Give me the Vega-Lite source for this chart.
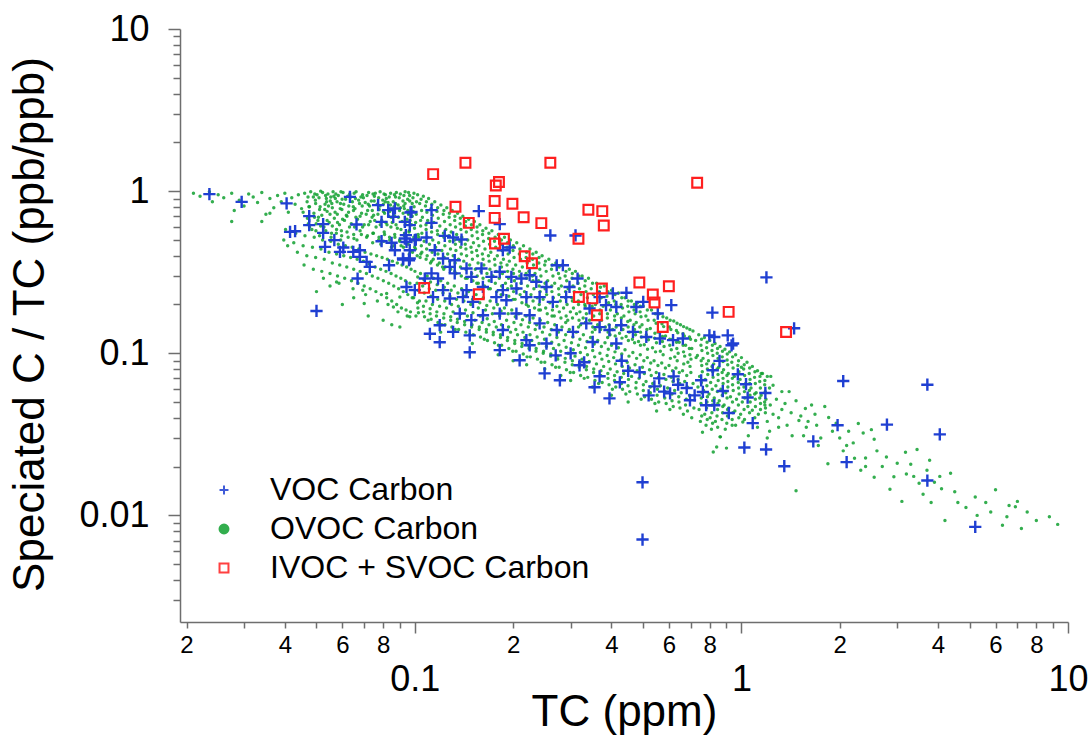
{
"$schema":"https://vega.github.io/schema/vega-lite/v6.json",
"width":888,"height":593,
"autosize":{"type":"none"},
"padding":{"left":180,"top":29,"right":24,"bottom":116},
"background":"white",
"config":{"view":{"stroke":null},"font":"Liberation Sans",
 "legend":{"title":null,"orient":"none","legendX":28,"legendY":445,"padding":0,"labelFontSize":32,"labelFont":"Liberation Sans","labelColor":"black","labelOffset":30,"labelLimit":0,"symbolSize":80,"symbolStrokeWidth":2,"rowPadding":7}},
"datasets":{
"ovoc":[
{"x":0.021,"y":0.97},{"x":0.022,"y":0.93},{"x":0.0235,"y":0.99},{"x":0.025,"y":0.95},{"x":0.026,"y":0.91},{"x":0.0275,"y":0.97},{"x":0.029,"y":0.88},{"x":0.031,"y":0.96},{"x":0.032,"y":0.92},{"x":0.033,"y":0.85},{"x":0.034,"y":0.98},{"x":0.036,"y":0.9},{"x":0.037,"y":0.79},{"x":0.038,"y":0.94},{"x":0.039,"y":0.86},{"x":0.04,"y":0.97},{"x":0.041,"y":0.74},{"x":0.042,"y":0.91},{"x":0.043,"y":0.83},{"x":0.044,"y":0.95},{"x":0.035,"y":0.72},{"x":0.03,"y":0.81},{"x":0.045,"y":0.78},{"x":0.0275,"y":0.65},{"x":0.034,"y":0.65},{"x":0.036,"y":0.73},{"x":0.024,"y":0.86},{"x":0.028,"y":0.76},
{"x":0.046,"y":0.97},{"x":0.0468,"y":0.86},{"x":0.0455,"y":0.74},{"x":0.0472,"y":0.63},
{"x":0.048,"y":0.99},{"x":0.0489,"y":0.92},{"x":0.0476,"y":0.8},{"x":0.0493,"y":0.69},{"x":0.0484,"y":0.58},
{"x":0.0502,"y":0.95},{"x":0.0496,"y":0.88},{"x":0.0511,"y":0.77},{"x":0.0505,"y":0.66},{"x":0.0498,"y":0.57},{"x":0.0515,"y":1.0},
{"x":0.0522,"y":0.98},{"x":0.0531,"y":0.83},{"x":0.0519,"y":0.71},{"x":0.0527,"y":0.6},{"x":0.0536,"y":0.9},
{"x":0.0542,"y":0.96},{"x":0.0551,"y":0.87},{"x":0.0539,"y":0.75},{"x":0.0547,"y":0.64},{"x":0.0556,"y":0.55},{"x":0.0544,"y":0.81},
{"x":0.0562,"y":0.99},{"x":0.0571,"y":0.9},{"x":0.0559,"y":0.79},{"x":0.0567,"y":0.68},{"x":0.0576,"y":0.58},{"x":0.0565,"y":0.93},
{"x":0.0583,"y":0.94},{"x":0.0592,"y":0.84},{"x":0.0579,"y":0.72},{"x":0.0588,"y":0.62},{"x":0.0597,"y":0.53},
{"x":0.0603,"y":0.98},{"x":0.0614,"y":0.89},{"x":0.0598,"y":0.77},{"x":0.0609,"y":0.66},{"x":0.062,"y":0.56},{"x":0.0606,"y":0.83},{"x":0.0617,"y":0.71},
{"x":0.0632,"y":0.96},{"x":0.0644,"y":0.86},{"x":0.0627,"y":0.74},{"x":0.0639,"y":0.63},{"x":0.065,"y":0.54},{"x":0.0636,"y":0.92},{"x":0.0648,"y":0.8},
{"x":0.0661,"y":0.99},{"x":0.0673,"y":0.88},{"x":0.0656,"y":0.78},{"x":0.0668,"y":0.67},{"x":0.068,"y":0.57},{"x":0.0665,"y":0.5},{"x":0.0677,"y":0.84},
{"x":0.0692,"y":0.95},{"x":0.0705,"y":0.85},{"x":0.0687,"y":0.73},{"x":0.07,"y":0.62},{"x":0.0712,"y":0.52},{"x":0.0696,"y":0.91},
{"x":0.0722,"y":0.98},{"x":0.0736,"y":0.87},{"x":0.0717,"y":0.76},{"x":0.073,"y":0.65},{"x":0.0744,"y":0.55},{"x":0.0727,"y":0.81},{"x":0.074,"y":0.69},
{"x":0.0752,"y":0.93},{"x":0.0767,"y":0.83},{"x":0.0748,"y":0.71},{"x":0.0761,"y":0.6},{"x":0.0775,"y":0.5},{"x":0.0757,"y":0.97},
{"x":0.0783,"y":0.99},{"x":0.0798,"y":0.88},{"x":0.0778,"y":0.77},{"x":0.0792,"y":0.66},{"x":0.0806,"y":0.56},{"x":0.0787,"y":0.47},{"x":0.0801,"y":0.83},
{"x":0.0813,"y":0.95},{"x":0.0828,"y":0.85},{"x":0.0808,"y":0.73},{"x":0.0822,"y":0.62},{"x":0.0837,"y":0.52},{"x":0.0818,"y":0.9},
{"x":0.0843,"y":0.97},{"x":0.0859,"y":0.86},{"x":0.0838,"y":0.75},{"x":0.0853,"y":0.64},{"x":0.0868,"y":0.54},{"x":0.0848,"y":0.45},{"x":0.0864,"y":0.8},{"x":0.0846,"y":0.69},
{"x":0.0873,"y":0.92},{"x":0.0889,"y":0.82},{"x":0.0868,"y":0.7},{"x":0.0884,"y":0.59},{"x":0.0899,"y":0.49},{"x":0.0878,"y":0.98},
{"x":0.0903,"y":0.96},{"x":0.092,"y":0.87},{"x":0.0898,"y":0.76},{"x":0.0914,"y":0.65},{"x":0.093,"y":0.55},{"x":0.0908,"y":0.46},{"x":0.0925,"y":0.81},
{"x":0.0934,"y":0.99},{"x":0.0951,"y":0.89},{"x":0.0929,"y":0.78},{"x":0.0946,"y":0.67},{"x":0.0962,"y":0.57},{"x":0.0939,"y":0.48},{"x":0.0956,"y":0.72},
{"x":0.0964,"y":0.94},{"x":0.0982,"y":0.84},{"x":0.0959,"y":0.73},{"x":0.0977,"y":0.62},{"x":0.0993,"y":0.52},{"x":0.0969,"y":0.43},
{"x":0.0994,"y":0.97},{"x":0.1012,"y":0.86},{"x":0.0988,"y":0.75},{"x":0.1006,"y":0.64},{"x":0.1024,"y":0.54},{"x":0.0999,"y":0.45},{"x":0.1017,"y":0.4},
{"x":0.0471,"y":0.92},{"x":0.0474,"y":0.8},{"x":0.0469,"y":0.68},{"x":0.0476,"y":0.6},
{"x":0.0494,"y":0.96},{"x":0.0497,"y":0.84},{"x":0.0491,"y":0.73},{"x":0.0499,"y":0.63},
{"x":0.0509,"y":0.91},{"x":0.0513,"y":0.8},{"x":0.0507,"y":0.69},{"x":0.0515,"y":0.61},{"x":0.0511,"y":0.53},
{"x":0.0533,"y":0.94},{"x":0.0537,"y":0.86},{"x":0.053,"y":0.77},{"x":0.0539,"y":0.66},{"x":0.0534,"y":0.57},
{"x":0.0553,"y":0.92},{"x":0.0557,"y":0.84},{"x":0.055,"y":0.72},{"x":0.0559,"y":0.61},{"x":0.0554,"y":0.52},
{"x":0.0573,"y":0.96},{"x":0.0578,"y":0.86},{"x":0.057,"y":0.74},{"x":0.058,"y":0.64},{"x":0.0575,"y":0.55},
{"x":0.0594,"y":0.99},{"x":0.0599,"y":0.89},{"x":0.0591,"y":0.78},{"x":0.0601,"y":0.67},{"x":0.0596,"y":0.57},{"x":0.0593,"y":0.5},
{"x":0.0623,"y":0.93},{"x":0.0628,"y":0.81},{"x":0.062,"y":0.7},{"x":0.0631,"y":0.6},{"x":0.0625,"y":0.52},
{"x":0.0652,"y":0.97},{"x":0.0658,"y":0.9},{"x":0.0649,"y":0.76},{"x":0.066,"y":0.69},{"x":0.0654,"y":0.6},{"x":0.0651,"y":0.51},
{"x":0.0684,"y":0.92},{"x":0.069,"y":0.81},{"x":0.068,"y":0.7},{"x":0.0692,"y":0.6},{"x":0.0686,"y":0.54},
{"x":0.0714,"y":0.94},{"x":0.072,"y":0.83},{"x":0.071,"y":0.72},{"x":0.0722,"y":0.62},{"x":0.0716,"y":0.53},
{"x":0.0745,"y":0.96},{"x":0.0751,"y":0.87},{"x":0.0741,"y":0.76},{"x":0.0754,"y":0.66},{"x":0.0747,"y":0.55},{"x":0.0743,"y":0.48},
{"x":0.0775,"y":0.91},{"x":0.0782,"y":0.81},{"x":0.0771,"y":0.72},{"x":0.0784,"y":0.62},{"x":0.0777,"y":0.52},
{"x":0.0805,"y":0.96},{"x":0.0812,"y":0.86},{"x":0.0801,"y":0.75},{"x":0.0815,"y":0.64},{"x":0.0808,"y":0.54},{"x":0.0803,"y":0.49},
{"x":0.0835,"y":0.92},{"x":0.0842,"y":0.82},{"x":0.0831,"y":0.7},{"x":0.0845,"y":0.6},{"x":0.0838,"y":0.5},
{"x":0.0866,"y":0.95},{"x":0.0873,"y":0.84},{"x":0.0861,"y":0.73},{"x":0.0876,"y":0.62},{"x":0.0869,"y":0.52},{"x":0.0863,"y":0.46},
{"x":0.0896,"y":0.91},{"x":0.0904,"y":0.79},{"x":0.0891,"y":0.69},{"x":0.0907,"y":0.58},{"x":0.0899,"y":0.5},
{"x":0.0926,"y":0.94},{"x":0.0934,"y":0.84},{"x":0.0921,"y":0.73},{"x":0.0937,"y":0.62},{"x":0.0929,"y":0.53},{"x":0.0923,"y":0.45},
{"x":0.0957,"y":0.98},{"x":0.0965,"y":0.87},{"x":0.0952,"y":0.76},{"x":0.0968,"y":0.66},{"x":0.096,"y":0.56},{"x":0.0954,"y":0.47},{"x":0.0962,"y":0.41},
{"x":0.0987,"y":0.91},{"x":0.0995,"y":0.8},{"x":0.0982,"y":0.7},{"x":0.0998,"y":0.59},{"x":0.099,"y":0.5},{"x":0.0984,"y":0.42},
{"x":0.0402,"y":0.58},{"x":0.0397,"y":0.5},{"x":0.0408,"y":0.46},
{"x":0.0432,"y":0.55},{"x":0.0426,"y":0.48},{"x":0.0437,"y":0.42},
{"x":0.0461,"y":0.53},{"x":0.0455,"y":0.46},{"x":0.0467,"y":0.4},{"x":0.0458,"y":0.35},
{"x":0.0492,"y":0.52},{"x":0.0486,"y":0.45},{"x":0.0497,"y":0.39},{"x":0.0489,"y":0.33},
{"x":0.0522,"y":0.5},{"x":0.0516,"y":0.44},{"x":0.0528,"y":0.38},{"x":0.0519,"y":0.32},{"x":0.0525,"y":0.29},
{"x":0.0553,"y":0.49},{"x":0.0546,"y":0.42},{"x":0.0559,"y":0.36},{"x":0.055,"y":0.31},
{"x":0.0583,"y":0.47},{"x":0.0576,"y":0.41},{"x":0.0589,"y":0.35},{"x":0.058,"y":0.3},{"x":0.0586,"y":0.27},
{"x":0.0613,"y":0.46},{"x":0.0606,"y":0.4},{"x":0.0619,"y":0.34},{"x":0.061,"y":0.29},
{"x":0.0643,"y":0.45},{"x":0.0636,"y":0.39},{"x":0.065,"y":0.33},{"x":0.064,"y":0.28},{"x":0.0647,"y":0.25},
{"x":0.0674,"y":0.44},{"x":0.0666,"y":0.38},{"x":0.068,"y":0.32},{"x":0.067,"y":0.27},
{"x":0.0704,"y":0.42},{"x":0.0696,"y":0.37},{"x":0.0711,"y":0.31},{"x":0.07,"y":0.26},{"x":0.0707,"y":0.23},
{"x":0.0734,"y":0.41},{"x":0.0726,"y":0.355},{"x":0.0741,"y":0.3},{"x":0.073,"y":0.25},
{"x":0.0764,"y":0.4},{"x":0.0756,"y":0.34},{"x":0.0771,"y":0.29},{"x":0.076,"y":0.24},{"x":0.0768,"y":0.21},
{"x":0.0794,"y":0.39},{"x":0.0786,"y":0.33},{"x":0.0801,"y":0.28},{"x":0.079,"y":0.23},
{"x":0.0824,"y":0.38},{"x":0.0816,"y":0.32},{"x":0.0832,"y":0.27},{"x":0.082,"y":0.22},{"x":0.0828,"y":0.2},
{"x":0.0854,"y":0.37},{"x":0.0846,"y":0.31},{"x":0.0862,"y":0.26},{"x":0.085,"y":0.21},
{"x":0.0884,"y":0.36},{"x":0.0876,"y":0.3},{"x":0.0892,"y":0.25},{"x":0.088,"y":0.2},{"x":0.0888,"y":0.18},
{"x":0.0914,"y":0.35},{"x":0.0906,"y":0.29},{"x":0.0922,"y":0.24},{"x":0.091,"y":0.19},
{"x":0.0944,"y":0.34},{"x":0.0936,"y":0.28},{"x":0.0952,"y":0.23},{"x":0.094,"y":0.185},{"x":0.0948,"y":0.17},
{"x":0.0974,"y":0.33},{"x":0.0966,"y":0.27},{"x":0.0982,"y":0.22},{"x":0.097,"y":0.18},
{"x":0.0576,"y":0.275},{"x":0.0693,"y":0.245},{"x":0.082,"y":0.234},{"x":0.09,"y":0.222},{"x":0.07,"y":0.203},{"x":0.086,"y":0.193},{"x":0.0965,"y":0.168},{"x":0.05,"y":0.24},{"x":0.06,"y":0.2},{"x":0.072,"y":0.17},{"x":0.08,"y":0.16},{"x":0.09,"y":0.145},{"x":0.065,"y":0.22},{"x":0.055,"y":0.26},{"x":0.085,"y":0.15},
{"x":0.102,"y":0.95},{"x":0.1035,"y":0.84},{"x":0.101,"y":0.72},{"x":0.1042,"y":0.61},{"x":0.1027,"y":0.52},{"x":0.1005,"y":0.44},{"x":0.1038,"y":0.39},
{"x":0.1062,"y":0.93},{"x":0.1078,"y":0.81},{"x":0.1055,"y":0.69},{"x":0.1083,"y":0.58},{"x":0.1068,"y":0.49},{"x":0.1051,"y":0.42},
{"x":0.1102,"y":0.9},{"x":0.1121,"y":0.78},{"x":0.1095,"y":0.66},{"x":0.1126,"y":0.56},{"x":0.1109,"y":0.47},{"x":0.1091,"y":0.4},{"x":0.1117,"y":0.36},
{"x":0.1151,"y":0.86},{"x":0.1169,"y":0.75},{"x":0.1143,"y":0.64},{"x":0.1175,"y":0.54},{"x":0.1158,"y":0.45},{"x":0.1139,"y":0.38},
{"x":0.1202,"y":0.82},{"x":0.1222,"y":0.72},{"x":0.1193,"y":0.61},{"x":0.1228,"y":0.52},{"x":0.121,"y":0.43},{"x":0.1189,"y":0.36},{"x":0.1216,"y":0.34},
{"x":0.1253,"y":0.79},{"x":0.1274,"y":0.69},{"x":0.1244,"y":0.58},{"x":0.128,"y":0.49},{"x":0.1261,"y":0.41},{"x":0.1239,"y":0.34},
{"x":0.1302,"y":0.76},{"x":0.1325,"y":0.66},{"x":0.1293,"y":0.56},{"x":0.1331,"y":0.47},{"x":0.1311,"y":0.4},{"x":0.1288,"y":0.33},
{"x":0.1352,"y":0.73},{"x":0.1376,"y":0.63},{"x":0.1343,"y":0.54},{"x":0.1382,"y":0.45},{"x":0.1361,"y":0.38},{"x":0.1338,"y":0.31},
{"x":0.1403,"y":0.7},{"x":0.1428,"y":0.61},{"x":0.1393,"y":0.52},{"x":0.1434,"y":0.44},{"x":0.1412,"y":0.37},{"x":0.1388,"y":0.3},
{"x":0.1462,"y":0.67},{"x":0.1489,"y":0.58},{"x":0.1452,"y":0.5},{"x":0.1495,"y":0.42},{"x":0.1472,"y":0.35},{"x":0.1447,"y":0.29},
{"x":0.1522,"y":0.65},{"x":0.155,"y":0.56},{"x":0.1512,"y":0.48},{"x":0.1556,"y":0.4},{"x":0.1532,"y":0.33},{"x":0.1506,"y":0.28},
{"x":0.1582,"y":0.62},{"x":0.1612,"y":0.54},{"x":0.1571,"y":0.46},{"x":0.1618,"y":0.38},{"x":0.1593,"y":0.32},{"x":0.1565,"y":0.27},
{"x":0.1652,"y":0.59},{"x":0.1683,"y":0.51},{"x":0.164,"y":0.44},{"x":0.1689,"y":0.37},{"x":0.1663,"y":0.31},{"x":0.1634,"y":0.26},
{"x":0.1722,"y":0.57},{"x":0.1754,"y":0.49},{"x":0.1709,"y":0.42},{"x":0.176,"y":0.35},{"x":0.1734,"y":0.3},{"x":0.1703,"y":0.25},
{"x":0.1802,"y":0.54},{"x":0.1836,"y":0.47},{"x":0.1789,"y":0.4},{"x":0.1842,"y":0.34},{"x":0.1814,"y":0.29},{"x":0.1782,"y":0.24},
{"x":0.1882,"y":0.52},{"x":0.1917,"y":0.45},{"x":0.1868,"y":0.38},{"x":0.1924,"y":0.32},{"x":0.1895,"y":0.27},{"x":0.1861,"y":0.23},
{"x":0.1962,"y":0.5},{"x":0.1998,"y":0.43},{"x":0.1947,"y":0.37},{"x":0.2005,"y":0.31},{"x":0.1975,"y":0.26},{"x":0.194,"y":0.225},
{"x":0.2052,"y":0.48},{"x":0.209,"y":0.41},{"x":0.2036,"y":0.35},{"x":0.2097,"y":0.3},{"x":0.2066,"y":0.25},{"x":0.2029,"y":0.215},
{"x":0.2152,"y":0.46},{"x":0.2192,"y":0.39},{"x":0.2135,"y":0.34},{"x":0.2199,"y":0.29},{"x":0.2167,"y":0.24},{"x":0.2128,"y":0.205},
{"x":0.2252,"y":0.44},{"x":0.2294,"y":0.38},{"x":0.2234,"y":0.32},{"x":0.2301,"y":0.28},{"x":0.2268,"y":0.23},{"x":0.2227,"y":0.195},
{"x":0.2353,"y":0.42},{"x":0.2397,"y":0.36},{"x":0.2334,"y":0.31},{"x":0.2404,"y":0.26},{"x":0.237,"y":0.22},{"x":0.2326,"y":0.19},
{"x":0.2453,"y":0.4},{"x":0.2499,"y":0.35},{"x":0.2433,"y":0.3},{"x":0.2506,"y":0.25},{"x":0.2471,"y":0.215},{"x":0.2425,"y":0.185},
{"x":0.2573,"y":0.38},{"x":0.2621,"y":0.33},{"x":0.2552,"y":0.28},{"x":0.2629,"y":0.24},{"x":0.2592,"y":0.205},{"x":0.2544,"y":0.175},
{"x":0.2703,"y":0.36},{"x":0.2754,"y":0.31},{"x":0.2681,"y":0.27},{"x":0.2762,"y":0.23},{"x":0.2723,"y":0.195},{"x":0.2673,"y":0.17},
{"x":0.2833,"y":0.35},{"x":0.2886,"y":0.3},{"x":0.281,"y":0.26},{"x":0.2895,"y":0.22},{"x":0.2854,"y":0.19},{"x":0.2802,"y":0.165},
{"x":0.2973,"y":0.33},{"x":0.3029,"y":0.29},{"x":0.2949,"y":0.25},{"x":0.3038,"y":0.21},{"x":0.2995,"y":0.18},{"x":0.294,"y":0.16},
{"x":0.3103,"y":0.32},{"x":0.3162,"y":0.27},{"x":0.3078,"y":0.24},{"x":0.3171,"y":0.2},{"x":0.3126,"y":0.175},
{"x":0.3253,"y":0.3},{"x":0.3315,"y":0.26},{"x":0.3227,"y":0.23},{"x":0.3325,"y":0.195},{"x":0.3277,"y":0.165},{"x":0.3218,"y":0.15},
{"x":0.3403,"y":0.29},{"x":0.3468,"y":0.25},{"x":0.3376,"y":0.22},{"x":0.3478,"y":0.185},{"x":0.3428,"y":0.16},
{"x":0.3603,"y":0.27},{"x":0.3672,"y":0.24},{"x":0.3574,"y":0.2},{"x":0.3683,"y":0.175},{"x":0.363,"y":0.15},{"x":0.3564,"y":0.14},
{"x":0.3803,"y":0.26},{"x":0.3876,"y":0.225},{"x":0.3773,"y":0.195},{"x":0.3887,"y":0.165},{"x":0.3831,"y":0.145},
{"x":0.4004,"y":0.245},{"x":0.408,"y":0.21},{"x":0.3971,"y":0.185},{"x":0.4092,"y":0.16},{"x":0.4033,"y":0.14},{"x":0.396,"y":0.13},
{"x":0.4204,"y":0.235},{"x":0.4284,"y":0.2},{"x":0.417,"y":0.175},{"x":0.4297,"y":0.15},{"x":0.4235,"y":0.133},
{"x":0.4404,"y":0.22},{"x":0.4488,"y":0.195},{"x":0.4368,"y":0.17},{"x":0.4501,"y":0.145},{"x":0.4436,"y":0.127},
{"x":0.4604,"y":0.21},{"x":0.4692,"y":0.185},{"x":0.4566,"y":0.16},{"x":0.4706,"y":0.14},{"x":0.4638,"y":0.122},
{"x":0.4805,"y":0.205},{"x":0.4896,"y":0.18},{"x":0.4765,"y":0.155},{"x":0.4911,"y":0.135},{"x":0.484,"y":0.118},
{"x":0.5005,"y":0.195},{"x":0.51,"y":0.17},{"x":0.4963,"y":0.15},{"x":0.5115,"y":0.13},{"x":0.5041,"y":0.113},
{"x":0.5305,"y":0.185},{"x":0.5406,"y":0.16},{"x":0.5261,"y":0.142},{"x":0.5422,"y":0.124},{"x":0.5344,"y":0.108},
{"x":0.5606,"y":0.175},{"x":0.5712,"y":0.152},{"x":0.5559,"y":0.135},{"x":0.5729,"y":0.118},{"x":0.5646,"y":0.103},
{"x":0.5906,"y":0.165},{"x":0.6018,"y":0.145},{"x":0.5857,"y":0.128},{"x":0.6036,"y":0.112},
{"x":0.6206,"y":0.158},{"x":0.6324,"y":0.138},{"x":0.6155,"y":0.122},{"x":0.6343,"y":0.107},{"x":0.6251,"y":0.095},
{"x":0.6507,"y":0.15},{"x":0.663,"y":0.132},{"x":0.6453,"y":0.117},{"x":0.665,"y":0.102},
{"x":0.6807,"y":0.143},{"x":0.6936,"y":0.126},{"x":0.675,"y":0.112},{"x":0.6957,"y":0.098},{"x":0.6856,"y":0.088},
{"x":0.7107,"y":0.137},{"x":0.7242,"y":0.12},{"x":0.7048,"y":0.107},{"x":0.7264,"y":0.094},
{"x":0.1045,"y":0.89},{"x":0.1049,"y":0.76},{"x":0.1042,"y":0.66},{"x":0.1051,"y":0.55},{"x":0.1047,"y":0.46},{"x":0.1043,"y":0.41},
{"x":0.1085,"y":0.86},{"x":0.1089,"y":0.74},{"x":0.1082,"y":0.62},{"x":0.1091,"y":0.52},{"x":0.1087,"y":0.44},{"x":0.1083,"y":0.38},
{"x":0.1128,"y":0.83},{"x":0.1133,"y":0.71},{"x":0.1125,"y":0.6},{"x":0.1135,"y":0.5},{"x":0.113,"y":0.42},{"x":0.1126,"y":0.37},
{"x":0.1175,"y":0.79},{"x":0.118,"y":0.68},{"x":0.1172,"y":0.57},{"x":0.1183,"y":0.48},{"x":0.1177,"y":0.41},{"x":0.1173,"y":0.35},
{"x":0.1228,"y":0.76},{"x":0.1233,"y":0.65},{"x":0.1224,"y":0.55},{"x":0.1236,"y":0.46},{"x":0.123,"y":0.39},{"x":0.1226,"y":0.33},
{"x":0.1277,"y":0.73},{"x":0.1283,"y":0.62},{"x":0.1273,"y":0.53},{"x":0.1286,"y":0.44},{"x":0.1279,"y":0.37},
{"x":0.1327,"y":0.7},{"x":0.1333,"y":0.6},{"x":0.1323,"y":0.5},{"x":0.1336,"y":0.43},{"x":0.1329,"y":0.36},{"x":0.1325,"y":0.32},
{"x":0.1378,"y":0.68},{"x":0.1384,"y":0.58},{"x":0.1374,"y":0.49},{"x":0.1388,"y":0.41},{"x":0.138,"y":0.34},
{"x":0.1431,"y":0.65},{"x":0.1438,"y":0.56},{"x":0.1427,"y":0.47},{"x":0.1441,"y":0.4},{"x":0.1434,"y":0.33},{"x":0.1429,"y":0.29},
{"x":0.1491,"y":0.62},{"x":0.1498,"y":0.53},{"x":0.1486,"y":0.45},{"x":0.1501,"y":0.38},{"x":0.1493,"y":0.31},
{"x":0.1551,"y":0.6},{"x":0.1558,"y":0.51},{"x":0.1546,"y":0.43},{"x":0.1562,"y":0.36},{"x":0.1553,"y":0.3},{"x":0.1548,"y":0.27},
{"x":0.1615,"y":0.57},{"x":0.1623,"y":0.49},{"x":0.161,"y":0.41},{"x":0.1627,"y":0.35},{"x":0.1618,"y":0.29},
{"x":0.1686,"y":0.55},{"x":0.1694,"y":0.47},{"x":0.1681,"y":0.4},{"x":0.1698,"y":0.33},{"x":0.1689,"y":0.28},{"x":0.1683,"y":0.25},
{"x":0.1761,"y":0.52},{"x":0.1769,"y":0.45},{"x":0.1755,"y":0.38},{"x":0.1774,"y":0.32},{"x":0.1764,"y":0.27},
{"x":0.1841,"y":0.5},{"x":0.185,"y":0.43},{"x":0.1835,"y":0.36},{"x":0.1855,"y":0.31},{"x":0.1844,"y":0.26},{"x":0.1838,"y":0.23},
{"x":0.1922,"y":0.48},{"x":0.1931,"y":0.41},{"x":0.1916,"y":0.35},{"x":0.1936,"y":0.29},{"x":0.1925,"y":0.25},
{"x":0.2003,"y":0.46},{"x":0.2013,"y":0.39},{"x":0.1997,"y":0.33},{"x":0.2018,"y":0.28},{"x":0.2006,"y":0.24},{"x":0.2,"y":0.215},
{"x":0.2098,"y":0.44},{"x":0.2108,"y":0.38},{"x":0.2091,"y":0.32},{"x":0.2114,"y":0.27},{"x":0.2101,"y":0.23},
{"x":0.2198,"y":0.42},{"x":0.2209,"y":0.36},{"x":0.2191,"y":0.31},{"x":0.2215,"y":0.26},{"x":0.2202,"y":0.22},{"x":0.2195,"y":0.2},
{"x":0.2298,"y":0.41},{"x":0.2309,"y":0.35},{"x":0.2291,"y":0.3},{"x":0.2316,"y":0.25},{"x":0.2302,"y":0.21},
{"x":0.2401,"y":0.39},{"x":0.2413,"y":0.33},{"x":0.2393,"y":0.28},{"x":0.242,"y":0.24},{"x":0.2405,"y":0.2},{"x":0.2397,"y":0.185},
{"x":0.2512,"y":0.37},{"x":0.2525,"y":0.32},{"x":0.2504,"y":0.27},{"x":0.2532,"y":0.23},{"x":0.2516,"y":0.19},
{"x":0.2635,"y":0.35},{"x":0.2648,"y":0.3},{"x":0.2627,"y":0.26},{"x":0.2656,"y":0.22},{"x":0.2639,"y":0.185},{"x":0.2631,"y":0.17},
{"x":0.2766,"y":0.34},{"x":0.278,"y":0.29},{"x":0.2757,"y":0.25},{"x":0.2788,"y":0.21},{"x":0.277,"y":0.18},
{"x":0.2903,"y":0.32},{"x":0.2918,"y":0.28},{"x":0.2894,"y":0.24},{"x":0.2926,"y":0.2},{"x":0.2907,"y":0.17},{"x":0.2898,"y":0.155},
{"x":0.3036,"y":0.31},{"x":0.3051,"y":0.26},{"x":0.3026,"y":0.22},{"x":0.306,"y":0.19},{"x":0.304,"y":0.165},
{"x":0.3178,"y":0.3},{"x":0.3194,"y":0.25},{"x":0.3168,"y":0.21},{"x":0.3203,"y":0.18},{"x":0.3183,"y":0.16},{"x":0.3172,"y":0.145},
{"x":0.3326,"y":0.28},{"x":0.3343,"y":0.24},{"x":0.3315,"y":0.2},{"x":0.3352,"y":0.175},{"x":0.3331,"y":0.155},
{"x":0.3502,"y":0.27},{"x":0.352,"y":0.23},{"x":0.3491,"y":0.195},{"x":0.353,"y":0.17},{"x":0.3507,"y":0.145},{"x":0.3496,"y":0.135},
{"x":0.3702,"y":0.255},{"x":0.3721,"y":0.22},{"x":0.369,"y":0.185},{"x":0.3731,"y":0.16},{"x":0.3707,"y":0.14},
{"x":0.3902,"y":0.24},{"x":0.3922,"y":0.205},{"x":0.3889,"y":0.175},{"x":0.3933,"y":0.15},{"x":0.3907,"y":0.135},{"x":0.3895,"y":0.125},
{"x":0.4103,"y":0.23},{"x":0.4124,"y":0.2},{"x":0.409,"y":0.17},{"x":0.4135,"y":0.145},{"x":0.4108,"y":0.128},
{"x":0.4303,"y":0.22},{"x":0.4325,"y":0.19},{"x":0.4289,"y":0.165},{"x":0.4337,"y":0.14},{"x":0.4309,"y":0.124},
{"x":0.4502,"y":0.21},{"x":0.4525,"y":0.18},{"x":0.4488,"y":0.157},{"x":0.4537,"y":0.135},{"x":0.4508,"y":0.12},
{"x":0.4703,"y":0.2},{"x":0.4727,"y":0.175},{"x":0.4688,"y":0.15},{"x":0.474,"y":0.13},{"x":0.4709,"y":0.116},
{"x":0.4902,"y":0.195},{"x":0.4927,"y":0.168},{"x":0.4886,"y":0.145},{"x":0.494,"y":0.126},{"x":0.4908,"y":0.112},
{"x":0.5152,"y":0.185},{"x":0.5178,"y":0.16},{"x":0.5135,"y":0.14},{"x":0.5192,"y":0.121},{"x":0.5159,"y":0.106},
{"x":0.5452,"y":0.175},{"x":0.548,"y":0.153},{"x":0.5434,"y":0.133},{"x":0.5494,"y":0.116},{"x":0.5459,"y":0.102},
{"x":0.5752,"y":0.168},{"x":0.5781,"y":0.146},{"x":0.5733,"y":0.127},{"x":0.5797,"y":0.11},{"x":0.5759,"y":0.098},
{"x":0.6052,"y":0.16},{"x":0.6083,"y":0.14},{"x":0.6032,"y":0.122},{"x":0.61,"y":0.105},{"x":0.606,"y":0.093},
{"x":0.6352,"y":0.153},{"x":0.6385,"y":0.134},{"x":0.6331,"y":0.117},{"x":0.6402,"y":0.1},{"x":0.636,"y":0.09},
{"x":0.6652,"y":0.146},{"x":0.6686,"y":0.128},{"x":0.663,"y":0.112},{"x":0.6704,"y":0.096},{"x":0.666,"y":0.086},
{"x":0.6952,"y":0.14},{"x":0.6988,"y":0.122},{"x":0.6929,"y":0.107},{"x":0.7007,"y":0.092},{"x":0.6961,"y":0.083},
{"x":0.1001,"y":0.32},{"x":0.1016,"y":0.27},{"x":0.0992,"y":0.22},{"x":0.1022,"y":0.19},{"x":0.1008,"y":0.17},
{"x":0.1041,"y":0.31},{"x":0.1057,"y":0.26},{"x":0.1033,"y":0.21},{"x":0.1062,"y":0.18},
{"x":0.1091,"y":0.3},{"x":0.1108,"y":0.25},{"x":0.1082,"y":0.21},{"x":0.1114,"y":0.175},{"x":0.1098,"y":0.16},
{"x":0.1141,"y":0.29},{"x":0.1159,"y":0.245},{"x":0.1132,"y":0.2},{"x":0.1165,"y":0.17},
{"x":0.1201,"y":0.28},{"x":0.122,"y":0.235},{"x":0.1191,"y":0.195},{"x":0.1226,"y":0.165},{"x":0.1209,"y":0.15},
{"x":0.1261,"y":0.27},{"x":0.1281,"y":0.225},{"x":0.1251,"y":0.19},{"x":0.1288,"y":0.16},
{"x":0.1321,"y":0.26},{"x":0.1342,"y":0.215},{"x":0.131,"y":0.18},{"x":0.1349,"y":0.155},{"x":0.133,"y":0.14},
{"x":0.1391,"y":0.25},{"x":0.1413,"y":0.21},{"x":0.138,"y":0.175},{"x":0.1421,"y":0.15},
{"x":0.1461,"y":0.24},{"x":0.1484,"y":0.2},{"x":0.1449,"y":0.17},{"x":0.1492,"y":0.145},{"x":0.1471,"y":0.13},
{"x":0.1541,"y":0.23},{"x":0.1565,"y":0.19},{"x":0.1528,"y":0.16},{"x":0.1574,"y":0.14},
{"x":0.1621,"y":0.22},{"x":0.1646,"y":0.185},{"x":0.1607,"y":0.155},{"x":0.1656,"y":0.135},{"x":0.1632,"y":0.122},
{"x":0.1701,"y":0.21},{"x":0.1728,"y":0.175},{"x":0.1687,"y":0.15},{"x":0.1738,"y":0.13},
{"x":0.1791,"y":0.2},{"x":0.1819,"y":0.17},{"x":0.1776,"y":0.145},{"x":0.1829,"y":0.125},{"x":0.1803,"y":0.112},
{"x":0.1881,"y":0.19},{"x":0.191,"y":0.16},{"x":0.1865,"y":0.14},{"x":0.1921,"y":0.12},
{"x":0.1981,"y":0.185},{"x":0.2012,"y":0.155},{"x":0.1964,"y":0.135},{"x":0.2023,"y":0.115},{"x":0.1995,"y":0.103},
{"x":0.2082,"y":0.175},{"x":0.2114,"y":0.15},{"x":0.2063,"y":0.13},{"x":0.2126,"y":0.11},
{"x":0.2192,"y":0.17},{"x":0.2226,"y":0.145},{"x":0.2172,"y":0.125},{"x":0.2238,"y":0.107},{"x":0.2206,"y":0.095},
{"x":0.2302,"y":0.165},{"x":0.2337,"y":0.14},{"x":0.2281,"y":0.12},{"x":0.235,"y":0.103},
{"x":0.2422,"y":0.16},{"x":0.2459,"y":0.135},{"x":0.24,"y":0.115},{"x":0.2473,"y":0.1},{"x":0.2437,"y":0.088},
{"x":0.2552,"y":0.155},{"x":0.2591,"y":0.13},{"x":0.2529,"y":0.11},{"x":0.2606,"y":0.096},
{"x":0.2682,"y":0.15},{"x":0.2723,"y":0.125},{"x":0.2658,"y":0.107},{"x":0.2739,"y":0.092},{"x":0.2699,"y":0.082},
{"x":0.2822,"y":0.145},{"x":0.2865,"y":0.12},{"x":0.2797,"y":0.103},{"x":0.2882,"y":0.088},
{"x":0.2972,"y":0.14},{"x":0.3018,"y":0.116},{"x":0.2945,"y":0.1},{"x":0.3035,"y":0.085},{"x":0.2991,"y":0.076},
{"x":0.3122,"y":0.135},{"x":0.317,"y":0.112},{"x":0.3094,"y":0.096},{"x":0.3188,"y":0.082},
{"x":0.3282,"y":0.13},{"x":0.3333,"y":0.108},{"x":0.3252,"y":0.092},{"x":0.3352,"y":0.079},{"x":0.3301,"y":0.07},
{"x":0.3452,"y":0.125},{"x":0.3505,"y":0.104},{"x":0.3421,"y":0.089},{"x":0.3526,"y":0.076},
{"x":0.3632,"y":0.12},{"x":0.3688,"y":0.1},{"x":0.3599,"y":0.086},{"x":0.371,"y":0.073},{"x":0.3654,"y":0.065},
{"x":0.3822,"y":0.116},{"x":0.3881,"y":0.097},{"x":0.3787,"y":0.083},{"x":0.3904,"y":0.07},
{"x":0.4002,"y":0.112},{"x":0.4064,"y":0.094},{"x":0.3966,"y":0.08},{"x":0.4088,"y":0.068},{"x":0.4027,"y":0.06},
{"x":0.4202,"y":0.108},{"x":0.4267,"y":0.091},{"x":0.4164,"y":0.077},{"x":0.4292,"y":0.065},
{"x":0.4402,"y":0.105},{"x":0.447,"y":0.088},{"x":0.4362,"y":0.075},{"x":0.4497,"y":0.063},{"x":0.4429,"y":0.056},
{"x":0.4652,"y":0.101},{"x":0.4724,"y":0.085},{"x":0.461,"y":0.072},{"x":0.4752,"y":0.061},
{"x":0.4902,"y":0.098},{"x":0.4978,"y":0.082},{"x":0.4858,"y":0.07},{"x":0.5008,"y":0.059},{"x":0.4932,"y":0.052},
{"x":0.5152,"y":0.094},{"x":0.5232,"y":0.079},{"x":0.5105,"y":0.067},{"x":0.5263,"y":0.057},
{"x":0.5402,"y":0.09},{"x":0.5486,"y":0.076},{"x":0.5353,"y":0.065},{"x":0.5519,"y":0.055},{"x":0.5435,"y":0.049},
{"x":0.5702,"y":0.087},{"x":0.5791,"y":0.074},{"x":0.565,"y":0.063},{"x":0.5825,"y":0.053},
{"x":0.6003,"y":0.084},{"x":0.6096,"y":0.071},{"x":0.5947,"y":0.061},{"x":0.6132,"y":0.051},{"x":0.6039,"y":0.045},
{"x":0.6303,"y":0.081},{"x":0.6401,"y":0.069},{"x":0.6245,"y":0.059},{"x":0.6438,"y":0.05},
{"x":0.6603,"y":0.078},{"x":0.6706,"y":0.067},{"x":0.6542,"y":0.057},{"x":0.6745,"y":0.048},{"x":0.6642,"y":0.042},
{"x":0.7003,"y":0.076},{"x":0.7112,"y":0.065},{"x":0.6938,"y":0.055},{"x":0.7154,"y":0.046},{"x":0.7045,"y":0.04},
{"x":0.1021,"y":0.295},{"x":0.1024,"y":0.245},{"x":0.1019,"y":0.205},{"x":0.1026,"y":0.178},
{"x":0.1066,"y":0.285},{"x":0.1069,"y":0.235},{"x":0.1063,"y":0.195},{"x":0.1071,"y":0.168},
{"x":0.1117,"y":0.275},{"x":0.112,"y":0.225},{"x":0.1114,"y":0.188},{"x":0.1122,"y":0.162},
{"x":0.1171,"y":0.265},{"x":0.1175,"y":0.215},{"x":0.1168,"y":0.18},{"x":0.1177,"y":0.155},
{"x":0.1231,"y":0.255},{"x":0.1235,"y":0.21},{"x":0.1228,"y":0.175},{"x":0.1237,"y":0.15},
{"x":0.1292,"y":0.245},{"x":0.1296,"y":0.2},{"x":0.1288,"y":0.168},{"x":0.1299,"y":0.145},
{"x":0.1355,"y":0.235},{"x":0.1359,"y":0.195},{"x":0.1351,"y":0.162},{"x":0.1362,"y":0.14},
{"x":0.1426,"y":0.225},{"x":0.143,"y":0.185},{"x":0.1421,"y":0.157},{"x":0.1433,"y":0.135},
{"x":0.1502,"y":0.215},{"x":0.1507,"y":0.178},{"x":0.1497,"y":0.15},{"x":0.151,"y":0.13},
{"x":0.1581,"y":0.205},{"x":0.1586,"y":0.17},{"x":0.1576,"y":0.145},{"x":0.1589,"y":0.126},
{"x":0.1661,"y":0.197},{"x":0.1666,"y":0.163},{"x":0.1656,"y":0.14},{"x":0.1669,"y":0.12},
{"x":0.1745,"y":0.19},{"x":0.1751,"y":0.157},{"x":0.1739,"y":0.135},{"x":0.1754,"y":0.116},
{"x":0.1836,"y":0.182},{"x":0.1842,"y":0.15},{"x":0.183,"y":0.13},{"x":0.1845,"y":0.112},
{"x":0.1931,"y":0.175},{"x":0.1937,"y":0.145},{"x":0.1925,"y":0.125},{"x":0.1941,"y":0.107},
{"x":0.2031,"y":0.168},{"x":0.2038,"y":0.14},{"x":0.2024,"y":0.12},{"x":0.2042,"y":0.103},
{"x":0.2137,"y":0.161},{"x":0.2144,"y":0.135},{"x":0.213,"y":0.115},{"x":0.2148,"y":0.099},
{"x":0.2246,"y":0.155},{"x":0.2253,"y":0.13},{"x":0.2239,"y":0.111},{"x":0.2258,"y":0.095},
{"x":0.2361,"y":0.15},{"x":0.2369,"y":0.126},{"x":0.2353,"y":0.107},{"x":0.2374,"y":0.092},
{"x":0.2487,"y":0.145},{"x":0.2495,"y":0.122},{"x":0.2479,"y":0.103},{"x":0.25,"y":0.088},
{"x":0.2617,"y":0.14},{"x":0.2626,"y":0.117},{"x":0.2609,"y":0.099},{"x":0.2631,"y":0.085},
{"x":0.2752,"y":0.135},{"x":0.2761,"y":0.113},{"x":0.2743,"y":0.096},{"x":0.2767,"y":0.082},
{"x":0.2897,"y":0.13},{"x":0.2907,"y":0.109},{"x":0.2888,"y":0.093},{"x":0.2913,"y":0.079},
{"x":0.3047,"y":0.126},{"x":0.3057,"y":0.105},{"x":0.3037,"y":0.09},{"x":0.3063,"y":0.076},
{"x":0.3202,"y":0.122},{"x":0.3213,"y":0.101},{"x":0.3192,"y":0.086},{"x":0.3219,"y":0.073},
{"x":0.3367,"y":0.118},{"x":0.3378,"y":0.098},{"x":0.3356,"y":0.083},{"x":0.3385,"y":0.071},
{"x":0.3542,"y":0.114},{"x":0.3554,"y":0.095},{"x":0.3531,"y":0.08},{"x":0.3561,"y":0.068},
{"x":0.3727,"y":0.11},{"x":0.3739,"y":0.092},{"x":0.3715,"y":0.078},{"x":0.3747,"y":0.066},
{"x":0.3912,"y":0.106},{"x":0.3925,"y":0.089},{"x":0.3899,"y":0.075},{"x":0.3933,"y":0.064},
{"x":0.4102,"y":0.102},{"x":0.4116,"y":0.086},{"x":0.4089,"y":0.073},{"x":0.4124,"y":0.062},
{"x":0.4302,"y":0.099},{"x":0.4316,"y":0.083},{"x":0.4288,"y":0.071},{"x":0.4325,"y":0.06},
{"x":0.4527,"y":0.096},{"x":0.4542,"y":0.081},{"x":0.4512,"y":0.069},{"x":0.4551,"y":0.058},
{"x":0.4777,"y":0.093},{"x":0.4793,"y":0.078},{"x":0.4761,"y":0.066},{"x":0.4802,"y":0.056},
{"x":0.5027,"y":0.09},{"x":0.5044,"y":0.075},{"x":0.501,"y":0.064},{"x":0.5054,"y":0.054},
{"x":0.5277,"y":0.087},{"x":0.5295,"y":0.073},{"x":0.5259,"y":0.062},{"x":0.5305,"y":0.052},
{"x":0.5552,"y":0.084},{"x":0.5571,"y":0.071},{"x":0.5533,"y":0.06},{"x":0.5581,"y":0.05},
{"x":0.5852,"y":0.081},{"x":0.5872,"y":0.069},{"x":0.5832,"y":0.058},{"x":0.5883,"y":0.049},
{"x":0.6152,"y":0.078},{"x":0.6173,"y":0.067},{"x":0.6131,"y":0.056},{"x":0.6184,"y":0.047},
{"x":0.6452,"y":0.076},{"x":0.6474,"y":0.065},{"x":0.643,"y":0.054},{"x":0.6486,"y":0.046},
{"x":0.6802,"y":0.073},{"x":0.6825,"y":0.062},{"x":0.6779,"y":0.052},{"x":0.6838,"y":0.044},
{"x":0.15,"y":0.115},{"x":0.2,"y":0.09},{"x":0.25,"y":0.08},{"x":0.3,"y":0.068},{"x":0.35,"y":0.062},{"x":0.4,"y":0.055},{"x":0.45,"y":0.05},{"x":0.55,"y":0.044},{"x":0.12,"y":0.135},{"x":0.18,"y":0.098},{"x":0.22,"y":0.085},{"x":0.28,"y":0.073},
{"x":0.7403,"y":0.13},{"x":0.7518,"y":0.112},{"x":0.7334,"y":0.097},{"x":0.7561,"y":0.084},{"x":0.7447,"y":0.072},{"x":0.7362,"y":0.062},{"x":0.7538,"y":0.053},{"x":0.7421,"y":0.045},{"x":0.7489,"y":0.038},
{"x":0.7703,"y":0.125},{"x":0.7823,"y":0.108},{"x":0.7631,"y":0.093},{"x":0.7867,"y":0.08},{"x":0.7749,"y":0.069},{"x":0.7661,"y":0.059},{"x":0.7844,"y":0.05},{"x":0.7722,"y":0.042},{"x":0.7793,"y":0.036},
{"x":0.8003,"y":0.12},{"x":0.8127,"y":0.104},{"x":0.7928,"y":0.09},{"x":0.8173,"y":0.077},{"x":0.8051,"y":0.066},{"x":0.7959,"y":0.056},{"x":0.8149,"y":0.048},{"x":0.8023,"y":0.04},{"x":0.8096,"y":0.034},
{"x":0.8303,"y":0.115},{"x":0.8432,"y":0.1},{"x":0.8225,"y":0.086},{"x":0.8479,"y":0.074},{"x":0.8353,"y":0.063},{"x":0.8257,"y":0.053},{"x":0.8454,"y":0.045},{"x":0.8324,"y":0.038},
{"x":0.8603,"y":0.11},{"x":0.8736,"y":0.095},{"x":0.8522,"y":0.082},{"x":0.8785,"y":0.07},{"x":0.8654,"y":0.06},{"x":0.8555,"y":0.051},{"x":0.8759,"y":0.043},{"x":0.8624,"y":0.0305},
{"x":0.8903,"y":0.106},{"x":0.9041,"y":0.091},{"x":0.8819,"y":0.079},{"x":0.9091,"y":0.067},{"x":0.8956,"y":0.057},{"x":0.8853,"y":0.048},{"x":0.9064,"y":0.041},{"x":0.8925,"y":0.034},
{"x":0.9203,"y":0.102},{"x":0.9346,"y":0.088},{"x":0.9116,"y":0.075},{"x":0.9398,"y":0.064},{"x":0.9258,"y":0.054},{"x":0.9151,"y":0.046},{"x":0.9369,"y":0.039},
{"x":0.9603,"y":0.098},{"x":0.9752,"y":0.084},{"x":0.9512,"y":0.072},{"x":0.9806,"y":0.061},{"x":0.966,"y":0.052},{"x":0.9549,"y":0.044},{"x":0.96,"y":0.036},
{"x":1.0003,"y":0.094},{"x":1.016,"y":0.08},{"x":0.9909,"y":0.069},{"x":1.0216,"y":0.058},{"x":1.0063,"y":0.05},{"x":0.9946,"y":0.042},{"x":1.01,"y":0.0377},
{"x":1.0403,"y":0.088},{"x":1.0566,"y":0.075},{"x":1.0305,"y":0.065},{"x":1.0624,"y":0.055},{"x":1.0466,"y":0.047},
{"x":1.0803,"y":0.083},{"x":1.0972,"y":0.071},{"x":1.0701,"y":0.061},{"x":1.1032,"y":0.052},{"x":1.08,"y":0.0445},
{"x":1.1203,"y":0.078},{"x":1.1379,"y":0.067},{"x":1.1098,"y":0.057},{"x":1.1441,"y":0.049},{"x":1.1271,"y":0.042},
{"x":1.1603,"y":0.075},{"x":1.1785,"y":0.064},{"x":1.1494,"y":0.055},{"x":1.185,"y":0.046},
{"x":1.2003,"y":0.072},{"x":1.2192,"y":0.061},{"x":1.189,"y":0.052},{"x":1.2258,"y":0.048},{"x":1.2,"y":0.038},
{"x":0.755,"y":0.122},{"x":0.757,"y":0.104},{"x":0.753,"y":0.09},{"x":0.759,"y":0.077},{"x":0.754,"y":0.066},{"x":0.758,"y":0.057},{"x":0.752,"y":0.049},{"x":0.756,"y":0.041},
{"x":0.785,"y":0.117},{"x":0.788,"y":0.1},{"x":0.783,"y":0.086},{"x":0.789,"y":0.074},{"x":0.784,"y":0.063},{"x":0.787,"y":0.054},{"x":0.782,"y":0.046},{"x":0.786,"y":0.039},
{"x":0.815,"y":0.112},{"x":0.818,"y":0.097},{"x":0.813,"y":0.083},{"x":0.819,"y":0.071},{"x":0.814,"y":0.06},{"x":0.817,"y":0.051},{"x":0.812,"y":0.043},{"x":0.816,"y":0.037},
{"x":0.845,"y":0.107},{"x":0.848,"y":0.093},{"x":0.843,"y":0.08},{"x":0.849,"y":0.068},{"x":0.844,"y":0.058},{"x":0.847,"y":0.049},{"x":0.842,"y":0.041},{"x":0.846,"y":0.035},
{"x":0.875,"y":0.103},{"x":0.878,"y":0.089},{"x":0.873,"y":0.076},{"x":0.879,"y":0.065},{"x":0.874,"y":0.055},{"x":0.877,"y":0.047},{"x":0.872,"y":0.039},
{"x":0.905,"y":0.099},{"x":0.908,"y":0.085},{"x":0.903,"y":0.073},{"x":0.909,"y":0.062},{"x":0.904,"y":0.053},{"x":0.907,"y":0.045},{"x":0.902,"y":0.037},
{"x":0.94,"y":0.095},{"x":0.943,"y":0.081},{"x":0.938,"y":0.07},{"x":0.944,"y":0.059},{"x":0.939,"y":0.05},{"x":0.942,"y":0.043},{"x":0.937,"y":0.036},
{"x":0.98,"y":0.09},{"x":0.983,"y":0.077},{"x":0.978,"y":0.066},{"x":0.984,"y":0.056},{"x":0.979,"y":0.048},{"x":0.982,"y":0.04},
{"x":1.02,"y":0.085},{"x":1.023,"y":0.073},{"x":1.018,"y":0.062},{"x":1.024,"y":0.053},{"x":1.019,"y":0.045},{"x":1.022,"y":0.039},
{"x":1.06,"y":0.081},{"x":1.063,"y":0.069},{"x":1.058,"y":0.059},{"x":1.064,"y":0.05},{"x":1.059,"y":0.043},
{"x":1.1,"y":0.077},{"x":1.103,"y":0.065},{"x":1.098,"y":0.056},{"x":1.104,"y":0.047},{"x":1.099,"y":0.04},
{"x":1.14,"y":0.072},{"x":1.143,"y":0.061},{"x":1.138,"y":0.053},{"x":1.144,"y":0.045},
{"x":1.18,"y":0.068},{"x":1.183,"y":0.058},{"x":1.178,"y":0.05},{"x":1.184,"y":0.043},
{"x":1.0,"y":0.082},{"x":1.06,"y":0.065},{"x":0.86,"y":0.0305},{"x":0.84,"y":0.0264},{"x":0.9,"y":0.026},{"x":0.82,"y":0.0246},{"x":0.76,"y":0.0326},{"x":1.15,"y":0.075},{"x":1.23,"y":0.072},{"x":1.25,"y":0.0635},{"x":1.33,"y":0.058},{"x":1.4,"y":0.058},{"x":1.47,"y":0.051},{"x":1.18,"y":0.048},{"x":1.33,"y":0.045},{"x":1.25,"y":0.042},{"x":1.22,"y":0.033},{"x":1.3,"y":0.035},{"x":1.43,"y":0.031},{"x":1.5,"y":0.0385},{"x":1.58,"y":0.035},{"x":1.57,"y":0.0457},{"x":1.64,"y":0.048},{"x":1.8,"y":0.047},{"x":1.85,"y":0.0401},{"x":2.1,"y":0.027},{"x":2.13,"y":0.033},{"x":2.05,"y":0.025},{"x":1.84,"y":0.0208},{"x":1.47,"y":0.0142},{"x":2.28,"y":0.0369},{"x":2.36,"y":0.0322},{"x":2.5,"y":0.0338},{"x":2.55,"y":0.0295},{"x":2.22,"y":0.0225},{"x":2.32,"y":0.019},{"x":2.4,"y":0.02},{"x":2.4,"y":0.0226},{"x":2.78,"y":0.0229},{"x":3.18,"y":0.0245},{"x":3.45,"y":0.0255},{"x":3.3,"y":0.0207},{"x":3.77,"y":0.0219},{"x":3.7,"y":0.019},{"x":4.05,"y":0.0174},{"x":4.37,"y":0.0182},{"x":4.1,"y":0.0146},{"x":3.5,"y":0.0158},{"x":3.37,"y":0.0174},{"x":2.93,"y":0.0173},{"x":2.55,"y":0.0172},{"x":3.1,"y":0.0122},{"x":3.81,"y":0.012},{"x":4.6,"y":0.012},{"x":4.87,"y":0.0112},{"x":4.2,"y":0.0093},{"x":5.27,"y":0.01},{"x":5.6,"y":0.012},{"x":6.0,"y":0.0144},{"x":6.3,"y":0.0087},{"x":6.9,"y":0.0113},{"x":8.77,"y":0.0098},
{"x":1.28,"y":0.052},{"x":1.36,"y":0.049},{"x":1.42,"y":0.043},{"x":1.52,"y":0.041},{"x":1.6,"y":0.038},{"x":1.3,"y":0.04},{"x":1.38,"y":0.036},{"x":1.55,"y":0.031},{"x":1.7,"y":0.036},{"x":1.75,"y":0.03},{"x":1.9,"y":0.033},{"x":2.0,"y":0.03},{"x":1.95,"y":0.037},{"x":1.68,"y":0.042},{"x":1.72,"y":0.027},{"x":2.2,"y":0.028},{"x":2.6,"y":0.025},{"x":2.7,"y":0.02},{"x":3.0,"y":0.021},{"x":3.2,"y":0.018},{"x":3.9,"y":0.016},{"x":4.5,"y":0.014},{"x":5.2,"y":0.013},{"x":5.8,"y":0.0105},{"x":6.5,"y":0.0098},{"x":7.5,"y":0.0105},{"x":8.0,"y":0.0093},{"x":9.3,"y":0.0088},{"x":7.2,"y":0.0083},{"x":3.6,"y":0.0135},{"x":2.85,"y":0.0145},{"x":1.12,"y":0.035},{"x":1.2,"y":0.03},{"x":1.05,"y":0.031},{"x":6.6,"y":0.0115},{"x":7.0,"y":0.0122}
],
"voc":[
{"x":0.0235,"y":0.958},{"x":0.0295,"y":0.859},{"x":0.0405,"y":0.84},{"x":0.0633,"y":0.922},{"x":0.0475,"y":0.701},{"x":0.0475,"y":0.617},{"x":0.0415,"y":0.561},{"x":0.043,"y":0.566},{"x":0.0524,"y":0.626},{"x":0.0524,"y":0.553},{"x":0.0567,"y":0.499},{"x":0.0531,"y":0.453},{"x":0.0604,"y":0.449},{"x":0.059,"y":0.422},{"x":0.0648,"y":0.422},{"x":0.0679,"y":0.432},{"x":0.0679,"y":0.393},{"x":0.0712,"y":0.366},{"x":0.0728,"y":0.341},{"x":0.0668,"y":0.289},{"x":0.0834,"y":0.349},{"x":0.05,"y":0.1824},{"x":0.0772,"y":0.82},{"x":0.0829,"y":0.764},{"x":0.0869,"y":0.782},{"x":0.0859,"y":0.694},{"x":0.0977,"y":0.745},{"x":0.0791,"y":0.646},{"x":0.0663,"y":0.623},{"x":0.0965,"y":0.617},{"x":0.0791,"y":0.491},{"x":0.0849,"y":0.48},{"x":0.0869,"y":0.432},{"x":0.0939,"y":0.535},{"x":0.0943,"y":0.486},{"x":0.1,"y":0.499},{"x":0.0921,"y":0.379},{"x":0.0965,"y":0.384},
{"x":0.798,"y":0.129},{"x":0.826,"y":0.126},{"x":0.908,"y":0.129},{"x":0.933,"y":0.112},{"x":0.857,"y":0.0897},{"x":0.817,"y":0.0786},{"x":0.975,"y":0.0742},{"x":1.033,"y":0.0644},{"x":0.753,"y":0.0681},{"x":0.762,"y":0.0577},{"x":0.877,"y":0.0585},{"x":1.045,"y":0.0533},{"x":1.184,"y":0.0569},{"x":0.78,"y":0.0478},{"x":0.826,"y":0.0478},{"x":0.915,"y":0.0428},{"x":1.083,"y":0.0371},{"x":2.05,"y":0.0674},{"x":3.71,"y":0.064},{"x":1.97,"y":0.036},{"x":2.79,"y":0.0363},{"x":4.05,"y":0.0316},{"x":1.66,"y":0.0286},{"x":1.021,"y":0.0262},{"x":1.19,"y":0.0255},{"x":1.353,"y":0.0201},{"x":2.1,"y":0.0213},{"x":3.71,"y":0.0164},{"x":5.2,"y":0.0085},
{"x":0.498,"y":0.016},{"x":0.498,"y":0.0071},{"x":1.193,"y":0.294},{"x":1.45,"y":0.1426},
{"x":0.157,"y":0.753},{"x":0.182,"y":0.626},{"x":0.26,"y":0.533},{"x":0.3105,"y":0.533},{"x":0.097,"y":0.739},{"x":0.1125,"y":0.637},{"x":0.0932,"y":0.51},{"x":0.1007,"y":0.503},{"x":0.1086,"y":0.518},{"x":0.1235,"y":0.53},{"x":0.131,"y":0.518},{"x":0.139,"y":0.503},{"x":0.1151,"y":0.432},{"x":0.092,"y":0.384},{"x":0.096,"y":0.375},{"x":0.122,"y":0.384},{"x":0.1325,"y":0.375},{"x":0.1952,"y":0.449},{"x":0.186,"y":0.432},{"x":0.272,"y":0.349},{"x":0.284,"y":0.349},{"x":0.315,"y":0.289},{"x":0.1125,"y":0.311},{"x":0.1073,"y":0.289},{"x":0.1178,"y":0.289},{"x":0.128,"y":0.341},{"x":0.1325,"y":0.311},{"x":0.144,"y":0.3335},{"x":0.149,"y":0.296},{"x":0.16,"y":0.3335},{"x":0.1717,"y":0.296},{"x":0.182,"y":0.318},{"x":0.1975,"y":0.296},{"x":0.212,"y":0.289},{"x":0.2247,"y":0.303},{"x":0.2355,"y":0.2756},{"x":0.253,"y":0.2565},{"x":0.2047,"y":0.251},{"x":0.186,"y":0.245},{"x":0.1616,"y":0.2565},{"x":0.144,"y":0.245},{"x":0.122,"y":0.245},{"x":0.1137,"y":0.222},{"x":0.128,"y":0.2176},{"x":0.1404,"y":0.222},{"x":0.1507,"y":0.2074},{"x":0.1777,"y":0.222},{"x":0.1907,"y":0.2125},{"x":0.2196,"y":0.222},{"x":0.2411,"y":0.222},{"x":0.2646,"y":0.2074},{"x":0.2907,"y":0.222},{"x":0.2976,"y":0.2565},{"x":0.3428,"y":0.189},{"x":0.368,"y":0.222},{"x":0.404,"y":0.234},{"x":0.4445,"y":0.236},{"x":0.385,"y":0.198},{"x":0.414,"y":0.193},{"x":0.4767,"y":0.193},{"x":0.5005,"y":0.2074},{"x":0.61,"y":0.198},{"x":0.5545,"y":0.1758},{"x":0.815,"y":0.178},{"x":0.1373,"y":0.1758},{"x":0.149,"y":0.16},{"x":0.1617,"y":0.1717},{"x":0.182,"y":0.1758},{"x":0.2047,"y":0.1758},{"x":0.2247,"y":0.1717},{"x":0.2411,"y":0.1528},{"x":0.272,"y":0.139},{"x":0.305,"y":0.1355},{"x":0.335,"y":0.1528},{"x":0.368,"y":0.145},{"x":0.3945,"y":0.139},{"x":0.4285,"y":0.149},{"x":0.4655,"y":0.1355},{"x":0.5115,"y":0.126},{"x":0.563,"y":0.1233},{"x":0.6175,"y":0.1205},{"x":0.6617,"y":0.1233},{"x":0.943,"y":0.1148},{"x":0.1192,"y":0.149},{"x":0.1112,"y":0.1319},{"x":0.131,"y":0.1355},{"x":0.1473,"y":0.129},{"x":0.186,"y":0.139},{"x":0.2196,"y":0.1205},{"x":0.253,"y":0.1148},{"x":0.3505,"y":0.1174},{"x":0.414,"y":0.1148},{"x":0.0943,"y":0.2565},{"x":0.1,"y":0.245},{"x":0.0965,"y":0.432},{"x":0.0932,"y":0.646},{"x":0.1125,"y":0.764},
{"x":0.1192,"y":0.117},{"x":0.1473,"y":0.1014},{"x":0.182,"y":0.1045},{"x":0.2094,"y":0.0905},{"x":0.2497,"y":0.0752},{"x":0.2781,"y":0.0681},{"x":0.3194,"y":0.0843},{"x":0.368,"y":0.0721},{"x":0.4244,"y":0.0662},{"x":0.488,"y":0.0763},{"x":0.5415,"y":0.0625},{"x":0.6048,"y":0.0566},{"x":0.6958,"y":0.0513},{"x":0.7191,"y":0.055},{"x":0.3945,"y":0.0527},{"x":0.3551,"y":0.0617},{"x":0.2247,"y":0.112},
{"x":0.27,"y":0.097},{"x":0.33,"y":0.088},{"x":0.43,"y":0.09},{"x":0.45,"y":0.078},{"x":0.3,"y":0.1},{"x":0.56,"y":0.07},{"x":0.62,"y":0.072},{"x":0.64,"y":0.064},{"x":0.68,"y":0.061},{"x":0.58,"y":0.058},{"x":0.52,"y":0.055}
],
"ivoc":[
{"x":0.1429,"y":1.495},{"x":0.1138,"y":1.273},{"x":0.26,"y":1.495},{"x":0.181,"y":1.14},{"x":0.177,"y":1.084},{"x":0.732,"y":1.125},{"x":0.1332,"y":0.8},{"x":0.1756,"y":0.868},{"x":0.199,"y":0.835},{"x":0.2154,"y":0.691},{"x":0.1756,"y":0.684},{"x":0.1463,"y":0.637},{"x":0.244,"y":0.635},{"x":0.34,"y":0.767},{"x":0.375,"y":0.753},{"x":0.379,"y":0.614},{"x":0.317,"y":0.508},{"x":0.1875,"y":0.508},{"x":0.176,"y":0.475},{"x":0.217,"y":0.397},{"x":0.2284,"y":0.359},{"x":0.1068,"y":0.253},{"x":0.157,"y":0.231},{"x":0.318,"y":0.2226},{"x":0.3495,"y":0.218},{"x":0.374,"y":0.2508},{"x":0.487,"y":0.273},{"x":0.5996,"y":0.259},{"x":0.5354,"y":0.2304},{"x":0.542,"y":0.2056},{"x":0.361,"y":0.1717},{"x":0.5744,"y":0.1453},{"x":0.914,"y":0.18},{"x":1.37,"y":0.1353}
]
},
"layer":[
{"data":{"name":"ovoc"},
 "mark":{"type":"point","filled":true,"size":12,"opacity":0.85,"strokeWidth":0},
 "encoding":{
  "x":{"field":"x","type":"quantitative",
   "scale":{"type":"log","domain":[0.0191,10],"nice":false,"zero":false},
   "axis":{"title":"TC (ppm)","grid":false,
    "values":[0.02,0.03,0.04,0.05,0.06,0.07,0.08,0.09,0.1,0.2,0.3,0.4,0.5,0.6,0.7,0.8,0.9,1,2,3,4,5,6,7,8,9,10],
    "labelExpr":"datum.value==0.1?['','0.1']:datum.value==1?['','1']:datum.value==10?['','10']:indexof([0.02,0.2,2],datum.value)>=0?'2':indexof([0.04,0.4,4],datum.value)>=0?'4':indexof([0.06,0.6,6],datum.value)>=0?'6':indexof([0.08,0.8,8],datum.value)>=0?'8':''",
    "labelFontSize":{"condition":{"test":"datum.value==0.1||datum.value==1||datum.value==10","value":36},"value":24},
    "labelPadding":5,"labelLineHeight":24,
    "tickSize":{"condition":{"test":"datum.value==0.1||datum.value==1||datum.value==10","value":11},"value":6},
    "labelBaseline":"top","labelAlign":"center","labelFlush":false,"labelOverlap":false,"labelBound":false,
    "labelColor":"black","labelFont":"Liberation Sans",
    "domainColor":"#6e6e6e","tickColor":"#6e6e6e","domainWidth":1.5,"tickWidth":1.5,
    "titleFontSize":44,"titleFontWeight":"normal","titleColor":"black","titleFont":"Liberation Sans",
    "titleY":103,"titleBaseline":"alphabetic"}},
  "y":{"field":"y","type":"quantitative",
   "scale":{"type":"log","domain":[0.0022,10],"nice":false,"zero":false},
   "axis":{"title":"Speciated C / TC (ppb/ppb)","grid":false,
    "values":[0.003,0.004,0.005,0.006,0.007,0.008,0.009,0.01,0.02,0.03,0.04,0.05,0.06,0.07,0.08,0.09,0.1,0.2,0.3,0.4,0.5,0.6,0.7,0.8,0.9,1,2,3,4,5,6,7,8,9,10],
    "labelExpr":"datum.value==0.01?'0.01':datum.value==0.1?'0.1':datum.value==1?'1':datum.value==10?'10':''",
    "tickSize":{"condition":{"test":"datum.value==0.01||datum.value==0.1||datum.value==1||datum.value==10","value":12},"value":7},
    "labelFontSize":36,"labelPadding":19,"labelFlush":false,"labelOverlap":false,"labelBound":false,
    "labelColor":"black","labelFont":"Liberation Sans",
    "domainColor":"#6e6e6e","tickColor":"#6e6e6e","domainWidth":1.5,"tickWidth":1.5,
    "titleFontSize":44,"titleFontWeight":"normal","titleColor":"black","titleFont":"Liberation Sans",
    "titleX":-137,"titleY":295,"titleBaseline":"alphabetic","titleAlign":"center","titleAngle":270}},
  "stroke":{"datum":"OVOC Carbon","type":"nominal",
   "scale":{"domain":["VOC Carbon","OVOC Carbon","IVOC + SVOC Carbon"],"range":["#1f3fd2","#10a030","#ff1f1f"]}},
  "fill":{"datum":"OVOC Carbon","type":"nominal",
   "scale":{"domain":["VOC Carbon","OVOC Carbon","IVOC + SVOC Carbon"],"range":["transparent","#10a030","transparent"]}},
  "shape":{"datum":"OVOC Carbon","type":"nominal",
   "scale":{"domain":["VOC Carbon","OVOC Carbon","IVOC + SVOC Carbon"],"range":["M-1,0H1M0,-1V1","circle","square"]}}
 }},
{"data":{"name":"voc"},
 "mark":{"type":"point","filled":false,"size":150,"opacity":1,"strokeWidth":2.4},
 "encoding":{
  "x":{"field":"x","type":"quantitative"},
  "y":{"field":"y","type":"quantitative"},
  "stroke":{"datum":"VOC Carbon","type":"nominal"},
  "fill":{"datum":"VOC Carbon","type":"nominal"},
  "shape":{"datum":"VOC Carbon","type":"nominal"}
 }},
{"data":{"name":"ivoc"},
 "mark":{"type":"point","filled":false,"size":95,"opacity":1,"strokeWidth":2.2},
 "encoding":{
  "x":{"field":"x","type":"quantitative"},
  "y":{"field":"y","type":"quantitative"},
  "stroke":{"datum":"IVOC + SVOC Carbon","type":"nominal"},
  "fill":{"datum":"IVOC + SVOC Carbon","type":"nominal"},
  "shape":{"datum":"IVOC + SVOC Carbon","type":"nominal"}
 }}
]
}
